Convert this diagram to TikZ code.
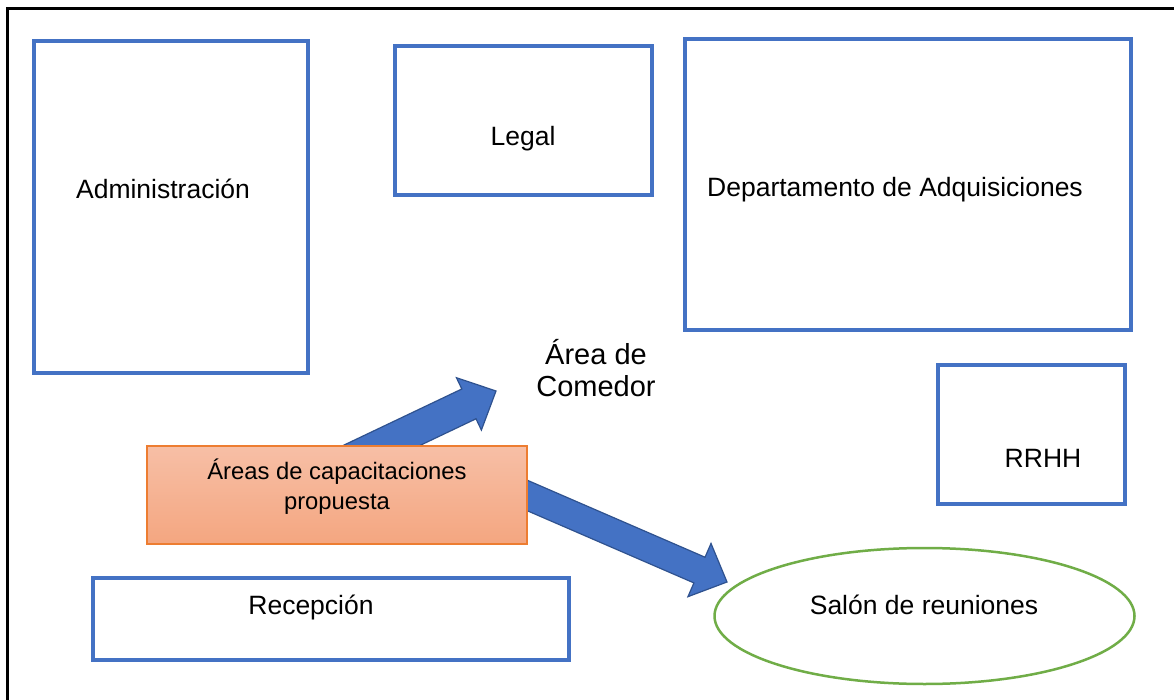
\documentclass[tikz,border=0pt]{standalone}
\usepackage{fontspec}
\setmainfont{Liberation Sans}
\usetikzlibrary{calc,shapes.geometric}
\definecolor{boxblue}{HTML}{4472C4}
\definecolor{arrowedge}{HTML}{2F528F}
\definecolor{orangeedge}{HTML}{ED7D31}
\definecolor{orangetop}{HTML}{F7BFA6}
\definecolor{orangebot}{HTML}{F4A680}
\definecolor{ellgreen}{HTML}{70AD47}
\tikzset{
  room/.style={draw=boxblue, line width=3.5pt, fill=white, inner sep=0pt},
  lbl/.style={inner sep=0pt, font=\fontsize{26.5}{32}\selectfont, align=center},
  fatarrow/.style={fill=boxblue, draw=arrowedge, line width=1.2pt, line join=miter},
}
\newcommand{\fatarrowdraw}[4]{% start, tip, shaft half width, head half width
  \coordinate (hb) at ($(#2)!30pt!(#1)$);
  \path[fatarrow] ($(#1)!#3!90:(#2)$) -- ($(hb)!#3!90:(#2)$) -- ($(hb)!#4!90:(#2)$) -- (#2)
    -- ($(hb)!#4!-90:(#2)$) -- ($(hb)!#3!-90:(#2)$) -- ($(#1)!#3!-90:(#2)$) -- cycle;
}
\begin{document}
\begin{tikzpicture}[x=1pt,y=-1pt]
\useasboundingbox (0,0) rectangle (1174,700);
\fill[white] (0,0) rectangle (1174,700);
% frame
\coordinate (fa) at (7,700);
\coordinate (fb) at (7,9);
\coordinate (fc) at (1180,9);
\draw[line width=3pt, line cap=rect] (fa) -- (fb) -- (fc);

% rooms
\node[room, minimum width=274pt, minimum height=332pt] (adm) at (171,207) {};
\node[lbl] (admt) at (163,189) {Administración};
\node[room, minimum width=257pt, minimum height=149pt] (legal) at (523.5,120.5) {};
\node[lbl] (legalt) at (523,139) {Legal};
\node[room, minimum width=446pt, minimum height=291pt] (dep) at (908,184.5) {};
\node[lbl] (dept) at (895,190) {Departamento de Adquisiciones};
\node[room, minimum width=187pt, minimum height=139pt] (rrhh) at (1031.5,434.5) {};
\node[lbl] (rrhht) at (1043,458) {RRHH};
\node[room, minimum width=476pt, minimum height=82pt] (rec) at (331,619) {};
\node[lbl] (rect) at (311,607) {Recepción};
\node[draw=ellgreen, line width=2.5pt, ellipse, minimum width=420pt, minimum height=136pt, inner sep=0pt] (salon) at (924.5,616) {};
\node[lbl] (salont) at (924,605) {Salón de reuniones};
\node[lbl, font=\fontsize{29}{32}\selectfont] (com) at (596,368) {Área de\\Comedor};

% arrows (tails hidden behind the orange box)
\coordinate (s1) at (330,470);
\coordinate (t1) at (496,391);
\coordinate (s2) at (480,475);
\coordinate (t2) at (727,582);
\fatarrowdraw{s1}{t1}{16.5pt}{29pt}
\fatarrowdraw{s2}{t2}{14pt}{29pt}

% proposed area
\node[draw=orangeedge, line width=1.5pt, top color=orangetop, bottom color=orangebot,
  minimum width=380pt, minimum height=98pt, inner sep=0pt] (cap) at (337,495) {};
\node[lbl, font=\fontsize{23.8}{30}\selectfont] (capt) at (337,487) {Áreas de capacitaciones\\propuesta};
\end{tikzpicture}
\end{document}
